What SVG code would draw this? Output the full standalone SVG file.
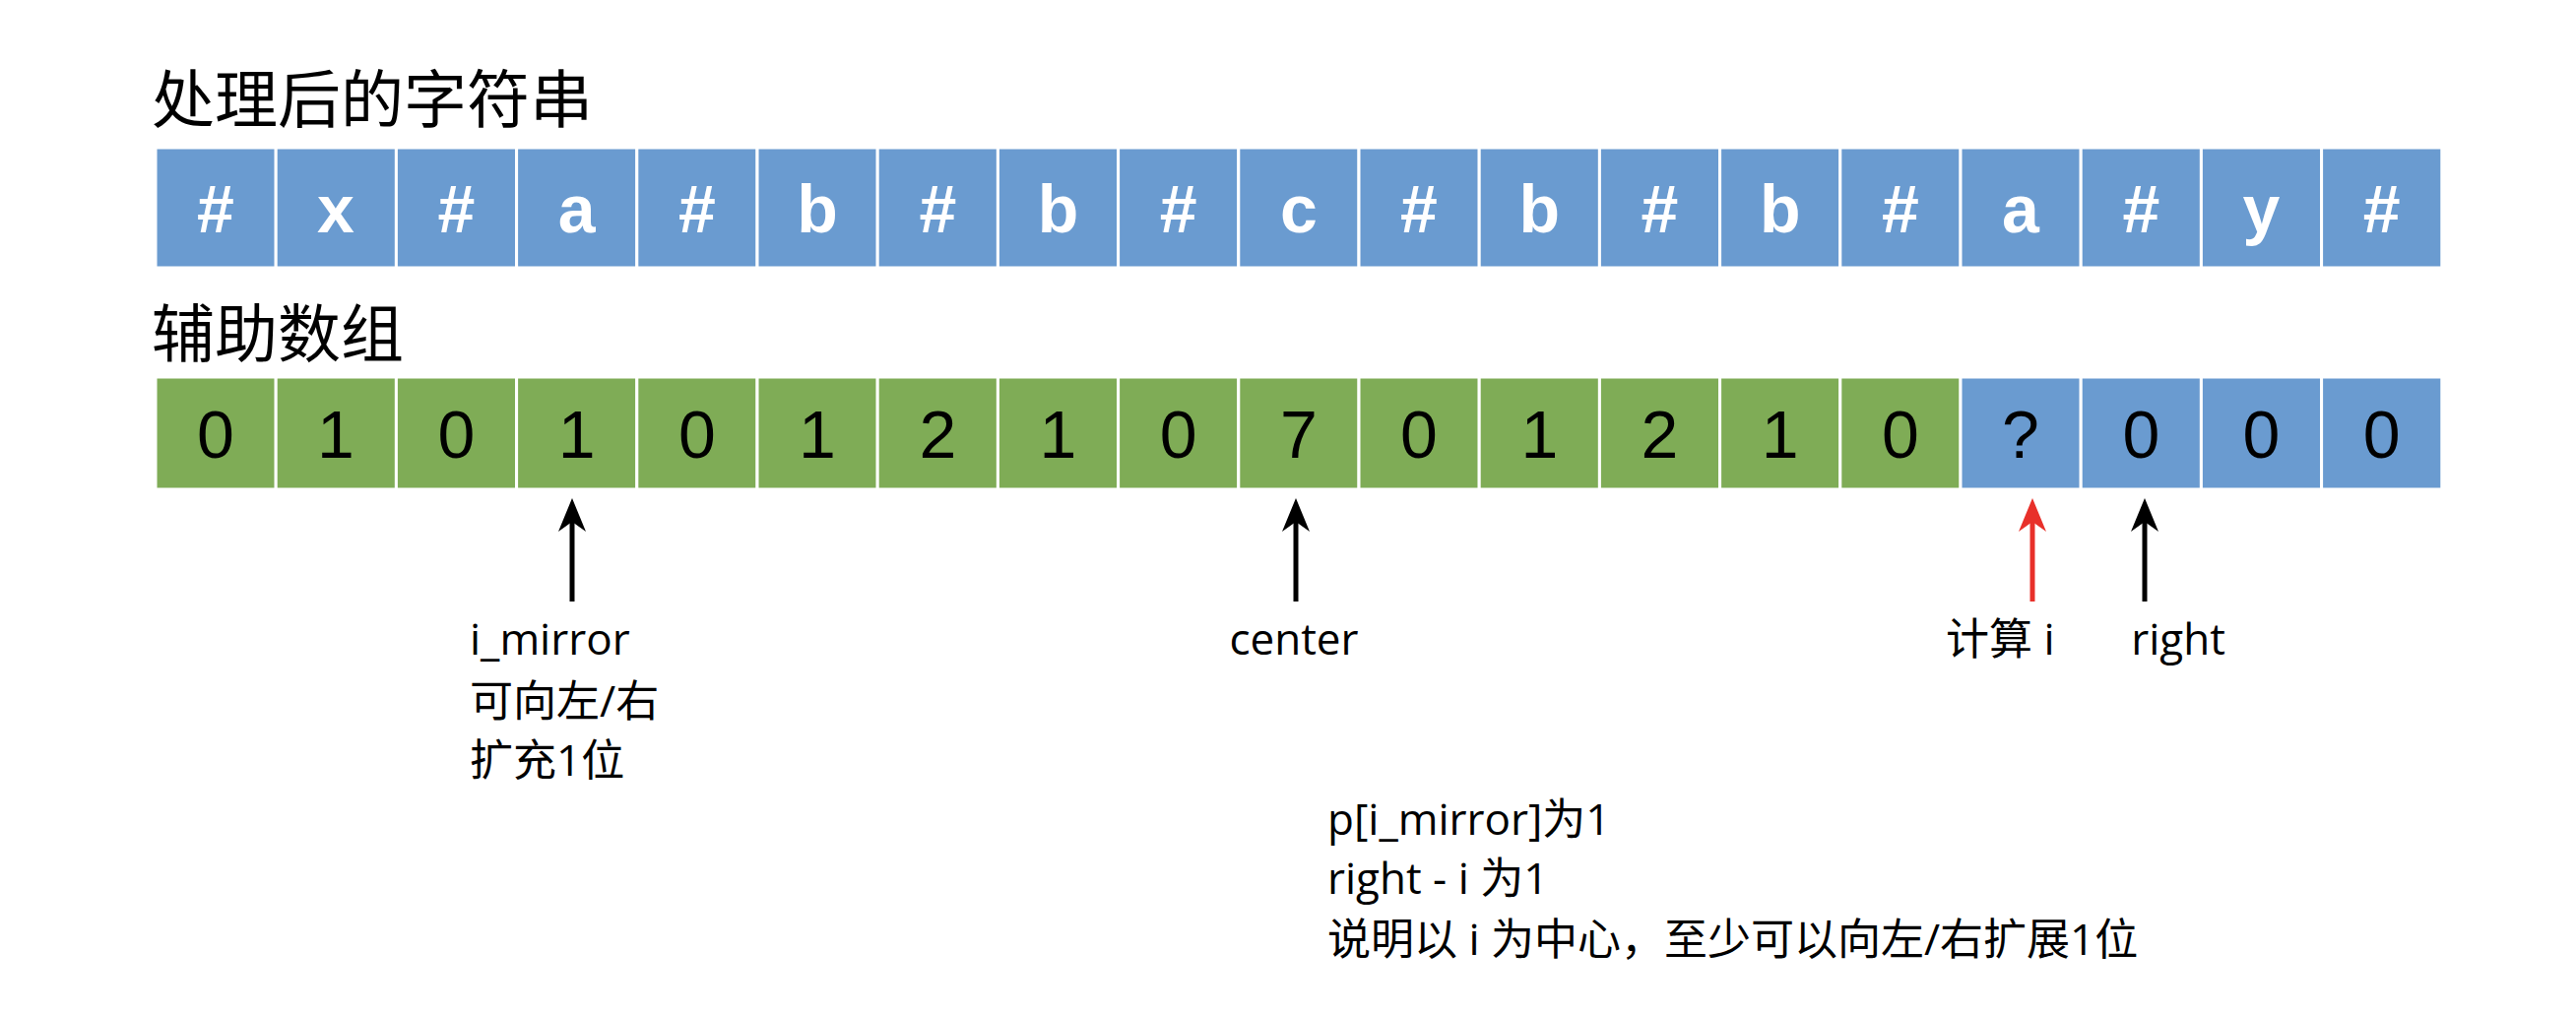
<svg xmlns="http://www.w3.org/2000/svg" width="2616" height="1030" viewBox="0 0 2616 1030">
<style>
.b{fill:#6a9bd0;stroke:#fff;stroke-width:3}
.g{fill:#7fac56;stroke:#fff;stroke-width:3}
.ct{font-family:"Liberation Sans",sans-serif;font-weight:bold;font-size:68px;fill:#fff;text-anchor:middle}
.dt{font-family:"Liberation Sans","Noto Sans CJK SC",sans-serif;font-size:68px;fill:#000;text-anchor:middle}
.h{font-family:"Noto Sans CJK SC",sans-serif;font-size:64px;fill:#000}
.l{font-family:"Open Sans","Noto Sans CJK SC",sans-serif;font-size:44px;fill:#000}
</style>
<rect width="2616" height="1030" fill="#fff"/>
<text class="h" x="154" y="124">处理后的字符串</text>
<text class="h" x="154" y="362">辅助数组</text>
<g id="str">
<rect class="b" x="158" y="150" width="122.2" height="122"/><text class="ct" x="219" y="236">#</text>
<rect class="b" x="280.2" y="150" width="122.2" height="122"/><text class="ct" x="341" y="236">x</text>
<rect class="b" x="402.4" y="150" width="122.2" height="122"/><text class="ct" x="463.5" y="236">#</text>
<rect class="b" x="524.6" y="150" width="122.2" height="122"/><text class="ct" x="585.7" y="236">a</text>
<rect class="b" x="646.8" y="150" width="122.2" height="122"/><text class="ct" x="708" y="236">#</text>
<rect class="b" x="769" y="150" width="122.2" height="122"/><text class="ct" x="830" y="236">b</text>
<rect class="b" x="891.2" y="150" width="122.2" height="122"/><text class="ct" x="952.3" y="236">#</text>
<rect class="b" x="1013.4" y="150" width="122.2" height="122"/><text class="ct" x="1074.5" y="236">b</text>
<rect class="b" x="1135.6" y="150" width="122.2" height="122"/><text class="ct" x="1196.7" y="236">#</text>
<rect class="b" x="1257.8" y="150" width="122.2" height="122"/><text class="ct" x="1319" y="236">c</text>
<rect class="b" x="1380" y="150" width="122.2" height="122"/><text class="ct" x="1441" y="236">#</text>
<rect class="b" x="1502.2" y="150" width="122.2" height="122"/><text class="ct" x="1563.3" y="236">b</text>
<rect class="b" x="1624.4" y="150" width="122.2" height="122"/><text class="ct" x="1685.5" y="236">#</text>
<rect class="b" x="1746.6" y="150" width="122.2" height="122"/><text class="ct" x="1807.7" y="236">b</text>
<rect class="b" x="1868.8" y="150" width="122.2" height="122"/><text class="ct" x="1930" y="236">#</text>
<rect class="b" x="1991" y="150" width="122.2" height="122"/><text class="ct" x="2052" y="236">a</text>
<rect class="b" x="2113.2" y="150" width="122.2" height="122"/><text class="ct" x="2174.3" y="236">#</text>
<rect class="b" x="2235.4" y="150" width="122.2" height="122"/><text class="ct" x="2296.5" y="236">y</text>
<rect class="b" x="2357.6" y="150" width="122.2" height="122"/><text class="ct" x="2418.7" y="236">#</text>
</g>
<g id="arr">
<rect class="g" x="158" y="383" width="122.2" height="114"/><text class="dt" x="219" y="465">0</text>
<rect class="g" x="280.2" y="383" width="122.2" height="114"/><text class="dt" x="341" y="465">1</text>
<rect class="g" x="402.4" y="383" width="122.2" height="114"/><text class="dt" x="463.5" y="465">0</text>
<rect class="g" x="524.6" y="383" width="122.2" height="114"/><text class="dt" x="585.7" y="465">1</text>
<rect class="g" x="646.8" y="383" width="122.2" height="114"/><text class="dt" x="708" y="465">0</text>
<rect class="g" x="769" y="383" width="122.2" height="114"/><text class="dt" x="830" y="465">1</text>
<rect class="g" x="891.2" y="383" width="122.2" height="114"/><text class="dt" x="952.3" y="465">2</text>
<rect class="g" x="1013.4" y="383" width="122.2" height="114"/><text class="dt" x="1074.5" y="465">1</text>
<rect class="g" x="1135.6" y="383" width="122.2" height="114"/><text class="dt" x="1196.7" y="465">0</text>
<rect class="g" x="1257.8" y="383" width="122.2" height="114"/><text class="dt" x="1319" y="465">7</text>
<rect class="g" x="1380" y="383" width="122.2" height="114"/><text class="dt" x="1441" y="465">0</text>
<rect class="g" x="1502.2" y="383" width="122.2" height="114"/><text class="dt" x="1563.3" y="465">1</text>
<rect class="g" x="1624.4" y="383" width="122.2" height="114"/><text class="dt" x="1685.5" y="465">2</text>
<rect class="g" x="1746.6" y="383" width="122.2" height="114"/><text class="dt" x="1807.7" y="465">1</text>
<rect class="g" x="1868.8" y="383" width="122.2" height="114"/><text class="dt" x="1930" y="465">0</text>
<rect class="b" x="1991" y="383" width="122.2" height="114"/><text class="dt" x="2052" y="465">?</text>
<rect class="b" x="2113.2" y="383" width="122.2" height="114"/><text class="dt" x="2174.3" y="465">0</text>
<rect class="b" x="2235.4" y="383" width="122.2" height="114"/><text class="dt" x="2296.5" y="465">0</text>
<rect class="b" x="2357.6" y="383" width="122.2" height="114"/><text class="dt" x="2418.7" y="465">0</text>
</g>
<g id="connectors" stroke-width="5">
<line x1="581" y1="530" x2="581" y2="611" stroke="#000"/><path d="M581,506 L567,540 L581,530 L595,540Z" fill="#000"/>
<line x1="1316" y1="530" x2="1316" y2="611" stroke="#000"/><path d="M1316,506 L1302,540 L1316,530 L1330,540Z" fill="#000"/>
<line x1="2064" y1="530" x2="2064" y2="611" stroke="#e8302a"/><path d="M2064,506 L2050,540 L2064,530 L2078,540Z" fill="#e8302a"/>
<line x1="2178" y1="530" x2="2178" y2="611" stroke="#000"/><path d="M2178,506 L2164,540 L2178,530 L2192,540Z" fill="#000"/>
</g>
<g id="labels">
<text class="l" x="477" y="665">i_mirror</text>
<text class="l" x="477" y="728">可向左/右</text>
<text class="l" x="477" y="788">扩充1位</text>
<text class="l" x="1314" y="665" text-anchor="middle">center</text>
<text class="l" x="1976" y="665">计算 i</text>
<text class="l" x="2212" y="665" text-anchor="middle">right</text>
<text class="l" x="1348" y="848">p[i_mirror]为1</text>
<text class="l" x="1348" y="908">right - i 为1</text>
<text class="l" x="1348" y="970">说明以 i 为中心，至少可以向左/右扩展1位</text>
</g>
</svg>
